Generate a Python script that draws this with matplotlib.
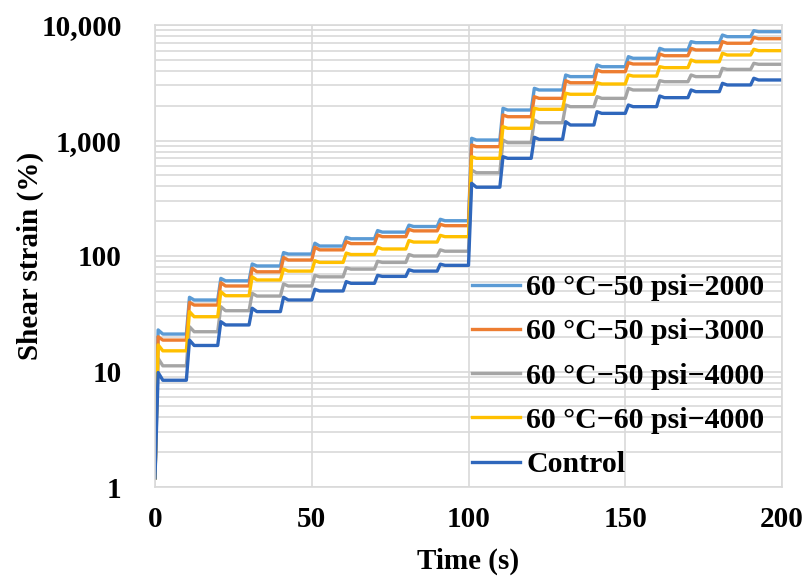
import numpy as np
import matplotlib.pyplot as plt
from matplotlib.ticker import FixedLocator, LogLocator, NullFormatter

# creep-recovery cycles: 1 s load + 9 s rest, 20 cycles
cycle_len = 10
load_time = 1
start_strain = 1.2

labels = ['60 °C\u221250 psi\u22122000', '60 °C\u221250 psi\u22123000',
          '60 °C\u221250 psi\u22124000', '60 °C\u221260 psi\u22124000', 'Control']
colors = ['#5B9BD5', '#ED7D31', '#A5A5A5', '#FFC000', '#2F67BC']

# peak strain at end of loading, and strain at end of rest, per cycle (%)
peak_2000 = [22.9, 43.9, 64, 85.3, 107, 129, 145, 166, 185, 208,
             1045, 1900, 2830, 3690, 4510, 5320, 6280, 7175, 8185, 8930]
end_2000 = [21.1, 41.6, 61, 82, 104, 122, 141, 161, 180, 202,
            1010, 1836, 2737, 3573, 4355, 5150, 6080, 7030, 7925, 8750]

peak_3000 = [20.0, 39.7, 58.7, 78.2, 97, 119, 133, 152, 170, 188,
             914, 1663, 2395, 3296, 4076, 4720, 5610, 6280, 7175, 7820]
end_3000 = [18.7, 37.6, 55, 73, 92.3, 113, 128, 147, 165, 183,
            884, 1607, 2317, 3163, 3942, 4594, 5420, 6080, 6950, 7610]

peak_4000 = [13.0, 24.4, 36.4, 47.5, 57.3, 68, 79, 90, 103, 113,
             555, 1010, 1505, 2029, 2395, 2831, 3296, 3690, 4217, 4660]
end_4000 = [11.2, 22.1, 33.6, 45, 55, 66, 77, 88, 100, 110,
            526, 957, 1425, 1963, 2317, 2737, 3229, 3573, 4130, 4570]

peak_60psi = [17.0, 33, 49, 66, 77, 91, 106, 119, 136, 151,
              724, 1317, 1900, 2565, 3163, 3690, 4355, 4977, 5690, 6160]
end_60psi = [15.1, 29.8, 45.3, 62, 74, 88, 103, 115, 132, 147,
             701, 1276, 1862, 2513, 3085, 3614, 4273, 4810, 5500, 5995]

peak_ctrl = [9.8, 18.7, 27, 35.3, 43.9, 51.5, 60, 68, 76, 85,
             426, 724, 1066, 1455, 1775, 2029, 2428, 2737, 3126, 3459]
end_ctrl = [8.4, 16.8, 25.3, 33, 41.6, 49.8, 58, 66.6, 74, 83,
            394, 701, 1024, 1362, 1718, 1963, 2349, 2648, 3026, 3342]

peaks = [peak_2000, peak_3000, peak_4000, peak_60psi, peak_ctrl]
ends = [end_2000, end_3000, end_4000, end_60psi, end_ctrl]


def build_path(peak, end):
    t = [0.0]
    y = [start_strain]
    for i, (p, e) in enumerate(zip(peak, end)):
        t0 = i * cycle_len
        t += [t0 + load_time, t0 + 2.5, t0 + cycle_len]
        y += [p, e, e]
    return np.array(t), np.array(y)


plt.rcParams['font.family'] = ['Liberation Serif', 'DejaVu Serif']
plt.rcParams['font.weight'] = 'bold'

fig = plt.figure(figsize=(8.07, 5.81), dpi=100)
ax = fig.add_axes([155 / 807, 1 - 487 / 581, 627 / 807, 462 / 581])

for lab, col, pk, en in zip(labels, colors, peaks, ends):
    t, y = build_path(pk, en)
    ax.plot(t, y, color=col, lw=2.4, label=lab, solid_joinstyle='round')

ax.set_yscale('log')
ax.set_ylim(1, 10000)
ax.set_xlim(0, 200)
ax.set_xticks([0, 50, 100, 150, 200])
ax.yaxis.set_major_locator(FixedLocator([1, 10, 100, 1000, 10000]))
ax.set_yticklabels(['1', '10', '100', '1,000', '10,000'])
ax.yaxis.set_minor_locator(LogLocator(base=10, subs=np.arange(2, 10)))
ax.yaxis.set_minor_formatter(NullFormatter())

ax.grid(True, which='major', color='#D9D9D9', lw=1.2)
ax.grid(True, which='minor', axis='y', color='#D9D9D9', lw=1.2)
ax.set_axisbelow(True)
for s in ax.spines.values():
    s.set_color('#D9D9D9')
    s.set_linewidth(1.2)

ax.tick_params(which='both', length=0, labelsize=21)
ax.tick_params(axis='y', pad=24)
ax.tick_params(axis='x', pad=14)
for lbl in ax.get_xticklabels() + ax.get_yticklabels():
    lbl.set_fontweight('bold')

ax.set_xlabel('Time (s)', fontsize=21, fontweight='bold', labelpad=10)
ax.set_ylabel('Shear strain (%)', fontsize=21, fontweight='bold', labelpad=-2)

leg = ax.legend(loc='center left', bbox_to_anchor=(0.506, 0.24), frameon=False,
                fontsize=21.5, handlelength=1.6, handletextpad=0.2,
                labelspacing=0.58, borderpad=0, borderaxespad=0)
for txt in leg.get_texts():
    txt.set_fontweight('bold')

fig.savefig('out.png', dpi=100)
